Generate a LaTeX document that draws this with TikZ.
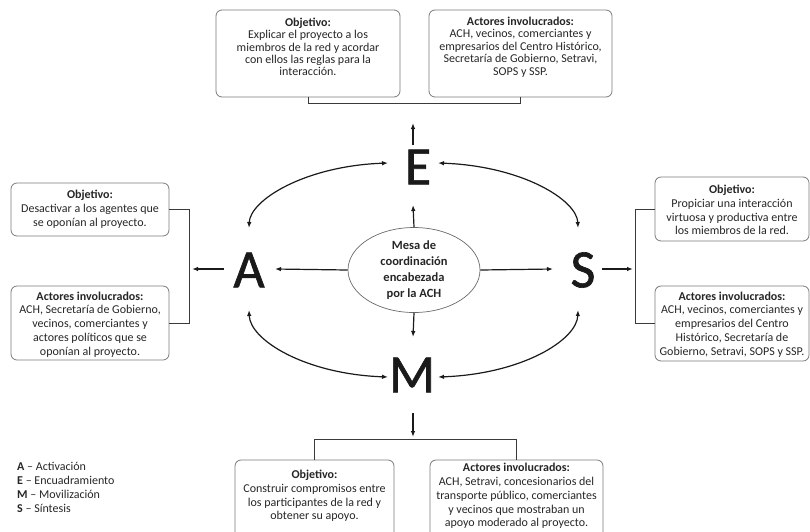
\documentclass[tikz,border=0pt]{standalone}
\usepackage{fontspec}
\setmainfont{Carlito}
\newfontfamily\letterfont{Carlito}[FakeBold=1.2]
\usetikzlibrary{arrows.meta,shapes.geometric}
\definecolor{boxgray}{HTML}{7A7A7A}
\definecolor{txtcol}{HTML}{262626}
\definecolor{letcol}{HTML}{1A1A1A}
\definecolor{arrcol}{HTML}{1A1A1A}
\definecolor{brkcol}{HTML}{3A3A3A}
\definecolor{ellcol}{HTML}{6A6A6A}
\begin{document}
\begin{tikzpicture}[x=1pt,y=-1pt,
  box/.style={draw=boxgray, line width=0.8pt, rounded corners=6pt, inner sep=0pt},
  txt/.style={align=center, inner sep=0pt, text=txtcol, font=\fontsize{12}{13.8}\selectfont},
  txttop/.style={txt, font=\fontsize{12}{12.4}\selectfont},
  txtbot/.style={txt, font=\fontsize{12}{13.8}\selectfont},
  letter/.style={inner sep=0pt, text=letcol, font=\letterfont\fontsize{54}{54}\selectfont},
  arr/.style={draw=arrcol, line width=1.2pt, -{Latex[length=6pt,width=4.5pt]}},
  darr/.style={draw=arrcol, line width=1.2pt, {Latex[length=6pt,width=4.5pt]}-{Latex[length=6pt,width=4.5pt]}},
  brk/.style={draw=brkcol, line width=0.8pt}
]
\useasboundingbox (0,0) rectangle (810,531);
\clip (0,0) rectangle (810,531);

% central ellipse
\node[ellipse, draw=ellcol, line width=0.7pt, minimum width=132pt, minimum height=85pt,
      inner sep=0pt, align=center, text=txtcol, font=\bfseries\fontsize{12.5}{16}\selectfont]
      (C) at (414,270) {Mesa de\\coordinación\\encabezada\\por la ACH};

% letters
\node[letter] (E) at (418,167) {E};
\node[letter] (A) at (249,270) {A};
\node[letter] (S) at (583,270) {S};
\node[letter] (M) at (412,375) {M};

% connector end points around the letters
\coordinate (E-l) at (388,163);
\coordinate (E-r) at (438,163);
\coordinate (E-b) at (413,205);
\coordinate (E-t) at (413,145);
\coordinate (top-tip) at (413,123);
\coordinate (A-t) at (249,228);
\coordinate (A-b) at (249,310);
\coordinate (A-r) at (275,269);
\coordinate (A-l) at (224,269);
\coordinate (left-tip) at (192,269);
\coordinate (S-t) at (578,228);
\coordinate (S-b) at (578,310);
\coordinate (S-l) at (553,269);
\coordinate (S-r) at (602,269);
\coordinate (right-tip) at (633,269);
\coordinate (M-l) at (388,377);
\coordinate (M-r) at (438,377);
\coordinate (M-t) at (413,337);
\coordinate (M-b) at (413,413);
\coordinate (bot-tip) at (413,437);

% arrows from the centre
\draw[arr] (C.west) -- (A-r);
\draw[arr] (C.east) -- (S-l);
\draw[arr] (C.north) -- (E-b);
\draw[arr] (C.south) -- (M-t);

% curved double arrows
\draw[darr] (E-l) .. controls (305,166) and (250,200) .. (A-t);
\draw[darr] (E-r) .. controls (522,166) and (577,200) .. (S-t);
\draw[darr] (A-b) .. controls (250,340) and (305,374) .. (M-l);
\draw[darr] (S-b) .. controls (577,340) and (522,374) .. (M-r);

% outward arrows
\draw[arr] (E-t) -- (top-tip);
\draw[arr] (A-l) -- (left-tip);
\draw[arr] (S-r) -- (right-tip);
\draw[arr] (M-b) -- (bot-tip);

% top boxes
\node[box, minimum width=184pt, minimum height=87pt] (te) at (308,53.5) {};
\node[txttop] (te-t) at (308,47) {\textbf{Objetivo:}\\Explicar el proyecto a los\\miembros de la red y acordar\\con ellos las reglas para la\\interacción.};
\node[box, minimum width=183pt, minimum height=87pt] (ta) at (520.5,53.5) {};
\node[txttop] (ta-t) at (520.5,47) {\textbf{Actores involucrados:}\\ACH, vecinos, comerciantes y\\empresarios del Centro Histórico,\\Secretaría de Gobierno, Setravi,\\SOPS y SSP.};
\draw[brk] (te.south) -- ++(0,6) -| (ta.south);

% left boxes
\node[box, minimum width=158pt, minimum height=53pt] (lo) at (90,209.5) {};
\node[txt] (lo-t) at (90,209.5) {\textbf{Objetivo:}\\Desactivar a los agentes que\\se oponían al proyecto.};
\node[box, minimum width=158pt, minimum height=74pt] (la) at (90,323) {};
\node[txt] (la-t) at (90,324.5) {\textbf{Actores involucrados:}\\ACH, Secretaría de Gobierno,\\vecinos, comerciantes y\\actores políticos que se\\oponían al proyecto.};
\draw[brk] (lo.east) -- ++(20,0) |- (la.east);

% right boxes
\node[box, minimum width=154pt, minimum height=64pt] (ro) at (732,209) {};
\node[txt] (ro-t) at (732,210) {\textbf{Objetivo:}\\Propiciar una interacción\\virtuosa y productiva entre\\los miembros de la red.};
\node[box, minimum width=154pt, minimum height=75pt] (ra) at (732,323.5) {};
\node[txt] (ra-t) at (732,324.5) {\textbf{Actores involucrados:}\\ACH, vecinos, comerciantes y\\empresarios del Centro\\Histórico, Secretaría de\\Gobierno, Setravi, SOPS y SSP.};
\draw[brk] (ro.west) -- ++(-19,0) |- (ra.west);

% bottom boxes
\node[box, minimum width=159pt, minimum height=85pt] (bo) at (314.5,502.5) {};
\node[txtbot] (bo-t) at (314.5,496) {\textbf{Objetivo:}\\Construir compromisos entre\\los participantes de la red y\\obtener su apoyo.};
\node[box, minimum width=173pt, minimum height=85pt] (ba) at (516.5,502.5) {};
\node[txtbot] (ba-t) at (516.5,496) {\textbf{Actores involucrados:}\\ACH, Setravi, concesionarios del\\transporte público, comerciantes\\y vecinos que mostraban un\\apoyo moderado al proyecto.};
\draw[brk] (bo.north) -- ++(0,-20) -| (ba.north);

% legend
\node[anchor=north west, align=left, inner sep=0pt, text=txtcol, font=\fontsize{12}{14}\selectfont]
  (leg) at (17,462) {\textbf{A} – Activación\\\textbf{E} – Encuadramiento\\\textbf{M} – Movilización\\\textbf{S} – Síntesis};
\end{tikzpicture}
\end{document}
